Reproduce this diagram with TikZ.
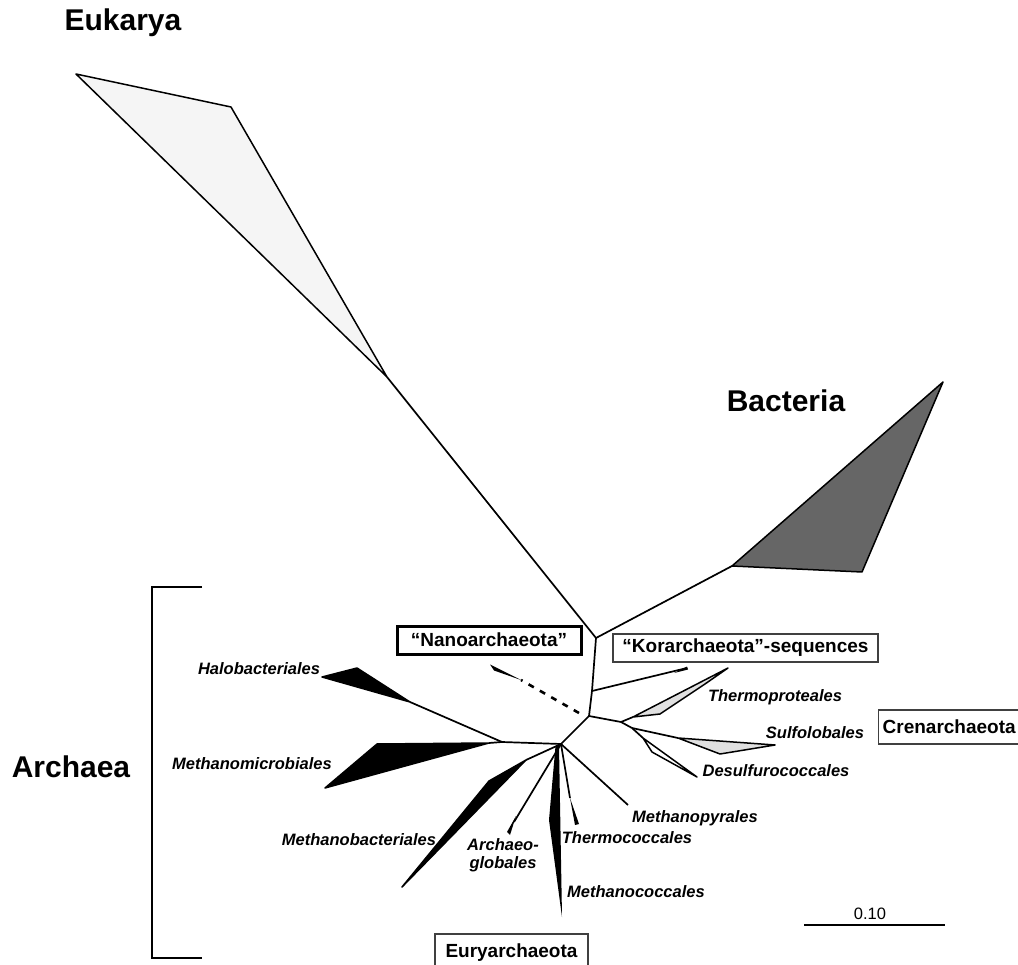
\documentclass[tikz,border=0pt]{standalone}
\usepackage{fontspec}
\setmainfont{Liberation Sans}
\usetikzlibrary{positioning}

\begin{document}
\begin{tikzpicture}[x=1pt, y=-1pt,
    branch/.style={line width=1.7, line join=round},
    clade/.style={draw, line width=1.5, line join=round},
    taxon/.style={font=\fontsize{16.5}{18}\selectfont\bfseries\itshape, inner sep=0pt, align=center},
    domainlabel/.style={font=\fontsize{30}{36}\selectfont\bfseries, inner sep=0pt},
    phylumbox/.style={draw=black!75, line width=1.3, font=\fontsize{19}{22}\selectfont\bfseries, inner sep=0pt, minimum height=28}]

    \useasboundingbox (0,0) rectangle (1018,965);

    % Eukarya and Bacteria
    \coordinate (euk) at (387,377);
    \coordinate (bac) at (732,566);
    \path[clade, fill=black!4] (76,74) -- (231,107) -- (euk) -- cycle;
    \path[clade, fill=black!60] (bac) -- (943,382) -- (862,572) -- cycle;
    \node[domainlabel] (eukarya) at (123,23) {Eukarya};
    \node[domainlabel] (bacteria) at (786,401) {Bacteria};

    % Backbone of the archaeal tree
    \coordinate (top) at (596,638);
    \coordinate (kor) at (592,691);
    \coordinate (arch) at (589,716);
    \coordinate (cren) at (621,722);
    \coordinate (sulf) at (632,728);
    \coordinate (eury) at (561,744);
    \coordinate (halo) at (502,742);
    \draw[branch] (euk) -- (top) -- (bac);
    \draw[branch] (top) -- (kor) -- (arch) -- (eury) -- (halo);
    \draw[branch] (arch) -- (cren) -- (sulf);

    % Korarchaeota and Nanoarchaeota
    \coordinate (korTip) at (687,668);
    \draw[branch] (kor) -- (korTip);
    \fill (674,673) -- (687,666.5) -- (688,669.5) -- cycle;
    \coordinate (nanoStart) at (579,713);
    \coordinate (nanoTip) at (521,680);
    \draw[line width=2.6, dash pattern=on 6 off 7] (nanoStart) -- (nanoTip);
    \fill (nanoTip) -- (490,664.5) -- (494,670.5) -- cycle;

    % Crenarchaeota
    \coordinate (thpr) at (633,717);
    \coordinate (sulfo) at (678,738);
    \coordinate (desu) at (643,738);
    \draw[branch] (cren) -- (thpr);
    \draw[branch] (sulf) -- (sulfo);
    \draw[branch] (sulf) -- (desu);
    \path[clade, fill=black!12] (thpr) -- (728,668) -- (705,684) -- (660,714) -- cycle;
    \path[clade, fill=black!12] (sulfo) -- (775,745) -- (720,754) -- cycle;
    \path[clade, fill=white] (desu) -- (697,777) -- (652,752) -- cycle;

    % Euryarchaeota
    \coordinate (mpyr) at (628,805);
    \coordinate (tcoc) at (570,798);
    \coordinate (agl) at (514,822);
    \coordinate (mbac) at (526,760);
    \coordinate (hbac) at (410,702);
    \coordinate (mmic) at (489,743);
    \draw[branch] (eury) -- (mpyr);
    \draw[branch] (eury) -- (tcoc);
    \fill (tcoc) -- (579,824) -- (575,825) -- cycle;
    \fill (555.5,746) -- (549,820) -- (562,917) -- (559,746) -- cycle;
    \draw[branch] (eury) -- (agl);
    \fill (516,816) -- (510,835) -- (507,832) -- cycle;
    \draw[branch] (eury) -- (mbac);
    \path[clade, fill=black] (mbac) -- (489,781) -- (402,887) -- cycle;
    \draw[branch] (halo) -- (hbac);
    \path[clade, fill=black] (322,677) -- (357,668) -- (hbac) -- cycle;
    \draw[branch] (halo) -- (mmic);
    \path[clade, fill=black] (mmic) -- (377,744) -- (325,788) -- cycle;

    % Order labels
    \node[taxon] (lhbac) at (259,669) {Halobacteriales};
    \node[taxon] (lmmic) at (252,764) {Methanomicrobiales};
    \node[taxon] (lmbac) at (359,840) {Methanobacteriales};
    \node[taxon] (lagl) at (503,855) {Archaeo-\\globales};
    \node[taxon] (ltcoc) at (627,838) {Thermococcales};
    \node[taxon] (lmpyr) at (695,818) {Methanopyrales};
    \node[taxon] (lmcoc) at (636,892) {Methanococcales};
    \node[taxon] (lthpr) at (775,697) {Thermoproteales};
    \node[taxon] (lsulf) at (815,733) {Sulfolobales};
    \node[taxon] (ldesu) at (776,771) {Desulfurococcales};

    % Kingdom boxes
    \node[phylumbox, line width=3, draw=black, minimum width=184] (nano) at (489,640) {``Nanoarchaeota''};
    \node[phylumbox, minimum width=265] (korbox) at (745.5,648) {``Korarchaeota''-sequences};
    \node[phylumbox, anchor=west, minimum height=34, inner xsep=4, text width=150, align=left] (crenbox) at (878,727) {Crenarchaeota};
    \node[phylumbox, minimum width=153, minimum height=38] (eurybox) at (511.5,953) {Euryarchaeota};

    % Archaea bracket
    \coordinate (brTop) at (202,587);
    \coordinate (brBot) at (202,958);
    \draw[line width=2.5] (brTop) -- (152,587) -- (152,958) -- (brBot);
    \node[domainlabel] (archaea) at (71,767) {Archaea};

    % Scale bar
    \coordinate (scaleL) at (804,925);
    \coordinate (scaleR) at (945,925);
    \draw[line width=2.5] (scaleL) -- (scaleR);
    \node[font=\fontsize{16.5}{18}\selectfont, inner sep=0pt] (scale) at (870,914) {0.10};
\end{tikzpicture}
\end{document}
